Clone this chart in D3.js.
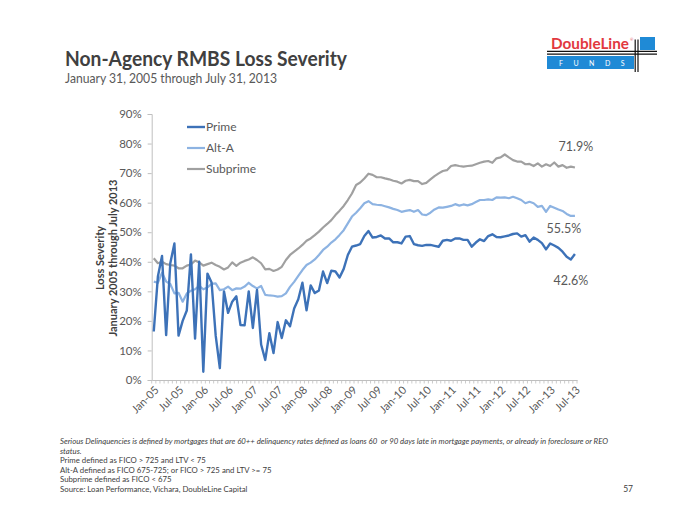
<!DOCTYPE html>
<html>
<head>
<meta charset="utf-8">
<script src="https://cdn.jsdelivr.net/npm/d3@7"></script>
<style>
  html, body { margin: 0; padding: 0; background: #fff; }
  svg { display: block; }
  text { font-family: Lato, "Open Sans", sans-serif; }
</style>
</head>
<body>
<svg id="chart" width="700" height="525"></svg>
<script>
// ---- data ----
const firstMonth = new Date(2005, 0, 1);
const lastMonth = new Date(2013, 6, 1);
const categories = d3.timeMonth.range(firstMonth, d3.timeMonth.offset(lastMonth, 1)).map(d3.timeFormat("%b-%y"));

const tickLabels = ["Jan-05","Jul-05","Jan-06","Jul-06","Jan-07","Jul-07","Jan-08","Jul-08","Jan-09","Jul-09",
  "Jan-10","Jul-10","Jan-11","Jul-11","Jan-12","Jul-12","Jan-13","Jul-13"];

const yTicks = [0,10,20,30,40,50,60,70,80,90];

const prime = [16.4,35,42,15.2,39.5,46.2,15,20,23.5,42.5,
  14,40,2.8,36,33,15,4,30,22.7,26.5,
  28.3,18.6,18.5,30,17.6,30.5,12,6.8,15.8,9.1,
  19.6,14.2,20.2,18.2,24.2,27.3,32.9,23.6,32,29.4,
  30.3,36.7,32.8,37,36.7,34.7,37.6,42.3,45.1,45.5,
  46,48.7,50.4,48.2,48.4,48.9,47.9,47.9,46.6,46.6,
  46.2,48.5,48.7,46,45.6,45.4,45.7,45.7,45.4,45.1,
  47.1,47.4,47.1,47.9,47.9,47.4,47.4,45.1,46.5,47.6,
  47,48.7,49.3,48.4,48.3,48.6,48.9,49.4,49.6,48.5,
  49,46.8,48.2,47.4,46.3,44.2,46.2,45.5,44.7,43.4,
  41.7,40.8,42.6];

const altA = [33.3,32.9,36.3,33.3,32.5,29.3,29.5,26.5,29.3,30.2,
  30.7,31.9,30.7,31.3,32.5,32.7,30.4,30.7,31.6,30.4,
  31,30.9,31.6,32.9,31.8,31,31.8,28.8,28.6,28.5,
  28.2,28.4,29.3,31.5,33.2,35.2,37.2,38.9,39.7,40.8,
  42.3,44,45.1,46.5,47.6,49.1,50.7,53,55.3,56.6,
  58.1,59.8,60.5,59.5,59.3,59.2,58.8,58.4,57.9,57.5,
  56.9,57.2,57.5,56.9,57.5,56,55.8,56.6,57.7,58.4,
  58.3,58.6,58.9,59.5,59,59.4,59.1,59.5,60.2,60.9,
  60.9,61.1,60.9,61.8,61.7,61.8,61.5,62,61.5,60.9,
  59.8,60.3,59.8,58.6,58.9,56.9,58.9,58.3,57.7,57.2,
  56.2,55.5,55.5];

const subprime = [41.2,39.5,40,39.2,38.9,38.7,37.8,37.8,38.7,39.1,
  40.4,39.8,38.7,39.2,39.7,38.9,38.3,37.4,38.1,39.8,
  38.6,39.7,40.3,40.8,41.5,40.6,39.5,37.4,37.6,36.9,
  37.4,38.3,40.6,42.3,43.4,44.5,45.7,47.1,47.9,49,
  50.2,51.6,52.8,54.1,55.8,57.3,58.9,60.9,63.1,66,
  66.8,68.2,69.8,69.4,68.6,68.6,68.2,67.9,67.4,67.1,
  66.5,67.4,67.7,67.3,67.3,66.3,66.7,67.9,69,69.9,
  70.7,71,72.4,72.7,72.4,72.2,72.4,72.5,73,73.5,
  73.9,74.1,73.5,75,75.3,76.3,75.3,74.4,73.9,73.9,
  73,73.1,72.4,73.3,72.2,73,72.4,73.6,72.2,72.7,
  71.8,72.2,71.9];

const seriesNames = ["Prime", "Alt-A", "Subprime"];
const seriesColors = ["#3d72b8", "#8db3e2", "#a0a0a0"];
const endLabels = ["42.6%", "55.5%", "71.9%"];

// ---- layout ----
const svg = d3.select("#chart");
const plot = { left: 151.7, right: 577, top: 114, bottom: 380 };

const x = d3.scaleBand().domain(categories).range([plot.left, plot.right]).padding(0);
const y = d3.scaleLinear().domain([0, 90]).range([plot.bottom, plot.top]);
const cx = c => x(c) + x.bandwidth() / 2;

const textGray = "#595959";
const axisGray = "#bfbfbf";

// Title
svg.append("text").attr("x", 65).attr("y", 66)
  .attr("font-size", 20).attr("font-weight", "bold").attr("fill", "#404040")
  .attr("textLength", 282).attr("lengthAdjust", "spacingAndGlyphs")
  .text("Non-Agency RMBS Loss Severity");
svg.append("text").attr("x", 65).attr("y", 82.5)
  .attr("font-size", 13.5).attr("fill", textGray)
  .attr("textLength", 212).attr("lengthAdjust", "spacingAndGlyphs")
  .text("January 31, 2005 through July 31, 2013");

// Logo
const logo = svg.append("g");
logo.append("text").attr("x", 551).attr("y", 49)
  .attr("font-family", "'Liberation Sans', Arial, sans-serif")
  .attr("font-size", 14.5).attr("font-weight", "bold").attr("fill", "#e2383f")
  .attr("textLength", 78).attr("lengthAdjust", "spacingAndGlyphs")
  .text("DoubleLine");
logo.append("text").attr("x", 630).attr("y", 41).attr("font-size", 4).attr("fill", "#e2383f").text("®");
logo.append("rect").attr("x", 547).attr("y", 56).attr("width", 87).attr("height", 13).attr("fill", "#1f8ad6");
logo.append("rect").attr("x", 640).attr("y", 37).attr("width", 15).attr("height", 13).attr("fill", "#1f8ad6");
logo.append("text").attr("x", 559).attr("y", 65.7)
  .attr("font-family", "'Liberation Sans', Arial, sans-serif")
  .attr("font-size", 7).attr("fill", "#fff").attr("letter-spacing", 10.5)
  .text("FUNDS");
[51.3, 54.2].forEach(yy => logo.append("line").attr("x1", 547).attr("x2", 657).attr("y1", yy).attr("y2", yy)
  .attr("stroke", "#111").attr("stroke-width", 1.2));
[635.2, 638].forEach(xx => logo.append("line").attr("x1", xx).attr("x2", xx).attr("y1", 39.5).attr("y2", 72)
  .attr("stroke", "#111").attr("stroke-width", 1.2));

// Y axis
const yAxis = svg.append("g").attr("transform", `translate(${plot.left},0)`)
  .call(d3.axisLeft(y).tickValues(yTicks).tickSize(4).tickPadding(6).tickFormat(d => d + "%"));
yAxis.select(".domain").attr("stroke", axisGray);
yAxis.selectAll(".tick line").attr("stroke", axisGray);
yAxis.selectAll(".tick text").attr("fill", textGray).attr("font-size", 11.5)
  .attr("font-family", "Lato, sans-serif");

// X axis
const xAxis = svg.append("g").attr("transform", `translate(0,${plot.bottom})`)
  .call(d3.axisBottom(x).tickValues([]).tickSize(0).tickSizeOuter(0));
xAxis.select(".domain").attr("stroke", axisGray);
// category boundary tick marks
svg.append("g").selectAll("line").data(categories.concat(["__end"])).join("line")
  .attr("x1", (d, i) => i < categories.length ? x(d) : plot.right)
  .attr("x2", (d, i) => i < categories.length ? x(d) : plot.right)
  .attr("y1", plot.bottom).attr("y2", plot.bottom + 3.5)
  .attr("stroke", axisGray).attr("stroke-width", 0.8);
svg.append("g").selectAll("text").data(tickLabels).join("text")
  .attr("transform", d => `translate(${cx(d) + 3},${plot.bottom + 8}) rotate(-45)`)
  .attr("text-anchor", "end").attr("dy", "0.35em")
  .attr("font-size", 11).attr("fill", textGray)
  .text(d => d);

// Y axis title
const yTitle = svg.append("g").attr("transform", "translate(0,258) rotate(-90)");
yTitle.append("text").attr("x", 0).attr("y", 104).attr("text-anchor", "middle")
  .attr("font-size", 11).attr("font-weight", "bold").attr("fill", "#404040").text("Loss Severity");
yTitle.append("text").attr("x", 0).attr("y", 117).attr("text-anchor", "middle")
  .attr("font-size", 11).attr("font-weight", "bold").attr("fill", "#404040").text("January 2005 through July 2013");

// Lines
const allSeries = [prime, altA, subprime];
const line = d3.line().x((d, i) => cx(categories[i])).y(d => y(d));
const drawOrder = [2, 1, 0];
drawOrder.forEach(s => {
  svg.append("path").datum(allSeries[s])
    .attr("fill", "none").attr("stroke", seriesColors[s])
    .attr("stroke-width", s === 0 ? 2.4 : 2.2)
    .attr("stroke-linejoin", "round")
    .attr("d", line);
});

// Legend
const legend = svg.append("g");
seriesNames.forEach((n, i) => {
  const ly = 127 + i * 21;
  legend.append("line").attr("x1", 187).attr("x2", 205).attr("y1", ly).attr("y2", ly)
    .attr("stroke", seriesColors[i]).attr("stroke-width", i === 0 ? 2.4 : 2.2);
  legend.append("text").attr("x", 206).attr("y", ly).attr("dy", "0.35em")
    .attr("font-size", 12).attr("fill", textGray).text(n);
});

// End labels
const lastCat = categories[categories.length - 1];
const endOffsets = [{dx: -4, dy: 27}, {dx: -11, dy: 13}, {dx: 1, dy: -21}];
allSeries.forEach((s, i) => {
  svg.append("text")
    .attr("x", cx(lastCat) + endOffsets[i].dx)
    .attr("y", y(s[s.length - 1]) + endOffsets[i].dy)
    .attr("dy", "0.35em").attr("text-anchor", "middle")
    .attr("font-size", 12.5).attr("fill", textGray).text(endLabels[i]);
});

// Footnotes
const notes = [
  {t: "Serious Delinquencies is defined by mortgages that are 60++ delinquency rates defined as loans 60  or 90 days late in mortgage payments, or already in foreclosure or REO", it: true},
  {t: "status.", it: true},
  {t: "Prime defined as FICO > 725 and LTV < 75", it: false},
  {t: "Alt-A defined as FICO 675-725; or FICO > 725 and LTV >= 75", it: false},
  {t: "Subprime defined as FICO < 675", it: false},
  {t: "Source: Loan Performance, Vichara, DoubleLine Capital", it: false}
];
notes.forEach((n, i) => {
  svg.append("text").attr("x", 60).attr("y", 444 + i * 9.6)
    .attr("font-size", 7.8).attr("fill", "#404040")
    .attr("font-style", n.it ? "italic" : "normal")
    .style("white-space", "pre")
    .text(n.t);
});
svg.append("text").attr("x", 633).attr("y", 492).attr("text-anchor", "end")
  .attr("font-size", 8.5).attr("fill", "#404040").text("57");
</script>
</body>
</html>
